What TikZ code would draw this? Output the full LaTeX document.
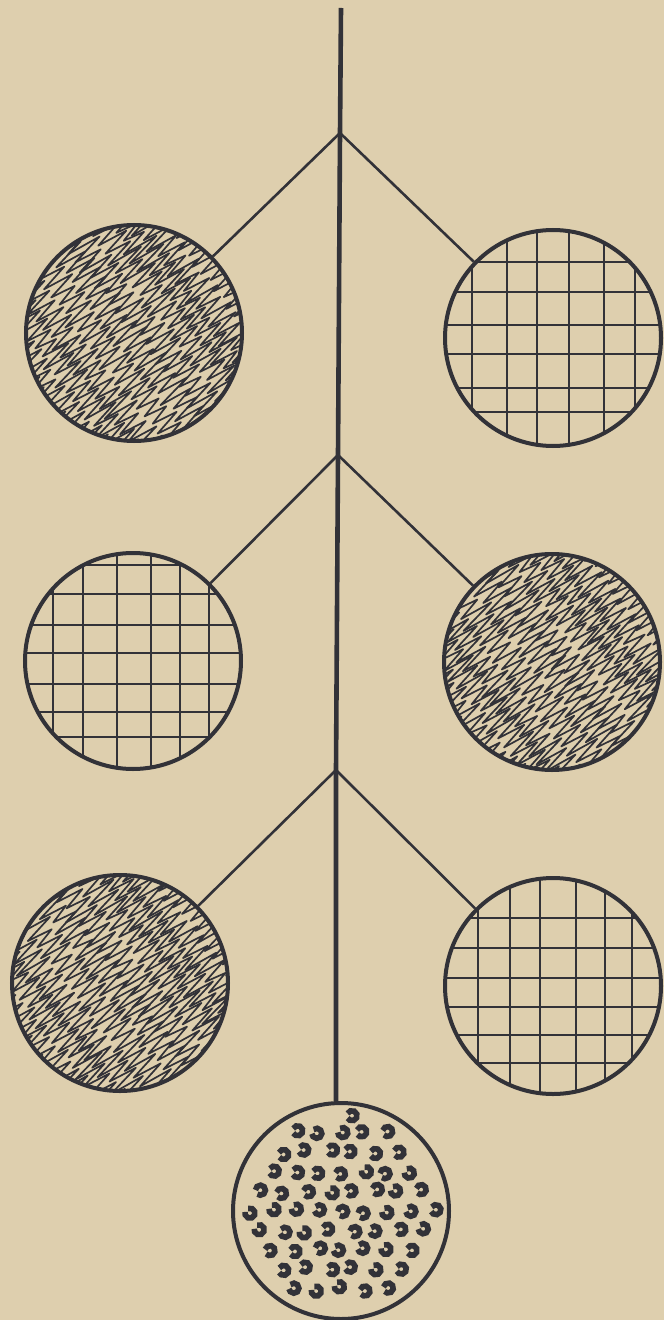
\documentclass[tikz,border=0pt]{standalone}
\definecolor{paper}{RGB}{222,207,174}
\definecolor{ink}{RGB}{50,50,56}
\tikzset{
  disc/.style={circle, draw=ink, line width=2pt, minimum size=108pt, inner sep=0pt},
  stemline/.style={draw=ink, line width=2.3pt, line join=round},
  branch/.style={draw=ink, line width=1.3pt},
  gridline/.style={draw=ink, line width=1.25pt},
  hatch/.style={draw=ink, line width=0.85pt, line join=round},
  curl/.style={draw=ink, line width=2.8pt},
}
\newcommand{\hatchfill}[2]{%
  \begin{scope}
    \clip (#1,#2) circle [radius=108];
    \begin{scope}[shift={(#1,#2)}, rotate=38]
    \foreach \b in {-7,...,7}{
      \pgfmathsetmacro{\uo}{\b*22+mod(\b*11+30,7)-3}
      \pgfmathsetmacro{\vo}{-135+mod(\b*5+20,4)}
      \draw[hatch] (\uo,\vo)
        \foreach \k [evaluate=\k as \uu using {\uo+30*mod(\k,2)+rand*5},
                     evaluate=\k as \vv using {\vo+\k*5.4}] in {1,...,52}{ -- (\uu,\vv) };
    }
    \end{scope}
  \end{scope}}
\begin{document}
\begin{tikzpicture}[x=0.5pt,y=-0.5pt]
\fill[paper] (0,0) rectangle (664,1320);
\useasboundingbox (0,0) rectangle (664,1320);
\pgfmathsetseed{5}

% hatched fills
\hatchfill{134}{333}
\hatchfill{552}{662}
\hatchfill{120}{983}

% grid fills
\begin{scope}
  \clip (553,338) circle [radius=108];
  \foreach \x in {472,507,537,569,604,635} \draw[gridline] (\x,220) -- (\x,450);
  \foreach \y in {262,292,325,354,388,412} \draw[gridline] (440,\y) -- (665,\y);
\end{scope}
\begin{scope}
  \clip (133,661) circle [radius=108];
  \foreach \x in {53,83,117,151,180,209} \draw[gridline] (\x,550) -- (\x,772);
  \foreach \y in {565,594,625,653,684,712,737} \draw[gridline] (20,\y) -- (245,\y);
\end{scope}
\begin{scope}
  \clip (553,986) circle [radius=108];
  \foreach \x in {478,510,540,576,605,632} \draw[gridline] (\x,875) -- (\x,1097);
  \foreach \y in {918,948,978,1007,1035,1063} \draw[gridline] (440,\y) -- (665,\y);
\end{scope}

% curls
\pgfmathsetseed{11}
\begin{scope}
  \foreach \i in {-6,...,6}{
    \foreach \jj in {-6,...,6}{
      \pgfmathsetmacro{\cx}{\jj*23+mod(abs(\i),2)*11.5+rand*3}
      \pgfmathsetmacro{\cy}{\i*19.5+rand*2.5}
      \pgfmathsetmacro{\rr}{10*sqrt((\cx/10)*(\cx/10)+(\cy/10)*(\cy/10))}
      \pgfmathsetmacro{\rot}{rand*35}
      \ifdim\rr pt<96pt
        \draw[curl] (341+\cx,1211+\cy) ++(145+\rot:2.5pt) arc[start angle=145+\rot, end angle=-160+\rot, radius=2.5pt];
      \fi
    }
  }
\end{scope}

% circles
\node[disc] (c1) at (134,333) {};
\node[disc] (c2) at (553,338) {};
\node[disc] (c3) at (133,661) {};
\node[disc] (c4) at (552,662) {};
\node[disc] (c5) at (120,983) {};
\node[disc] (c6) at (553,986) {};
\node[disc] (c7) at (341,1211) {};

% stem and branches
\coordinate (top) at (341,8);
\coordinate (b1) at (340,133);
\coordinate (b2) at (338,455);
\coordinate (b3) at (336,770);
\draw[stemline] (top) -- (b1) -- (b2) -- (b3) -- (b3 |- c7.north);
\draw[branch] (b1) -- (c1);
\draw[branch] (b1) -- (c2);
\draw[branch] (b2) -- (c3);
\draw[branch] (b2) -- (c4);
\draw[branch] (b3) -- (c5);
\draw[branch] (b3) -- (c6);
\end{tikzpicture}
\end{document}
